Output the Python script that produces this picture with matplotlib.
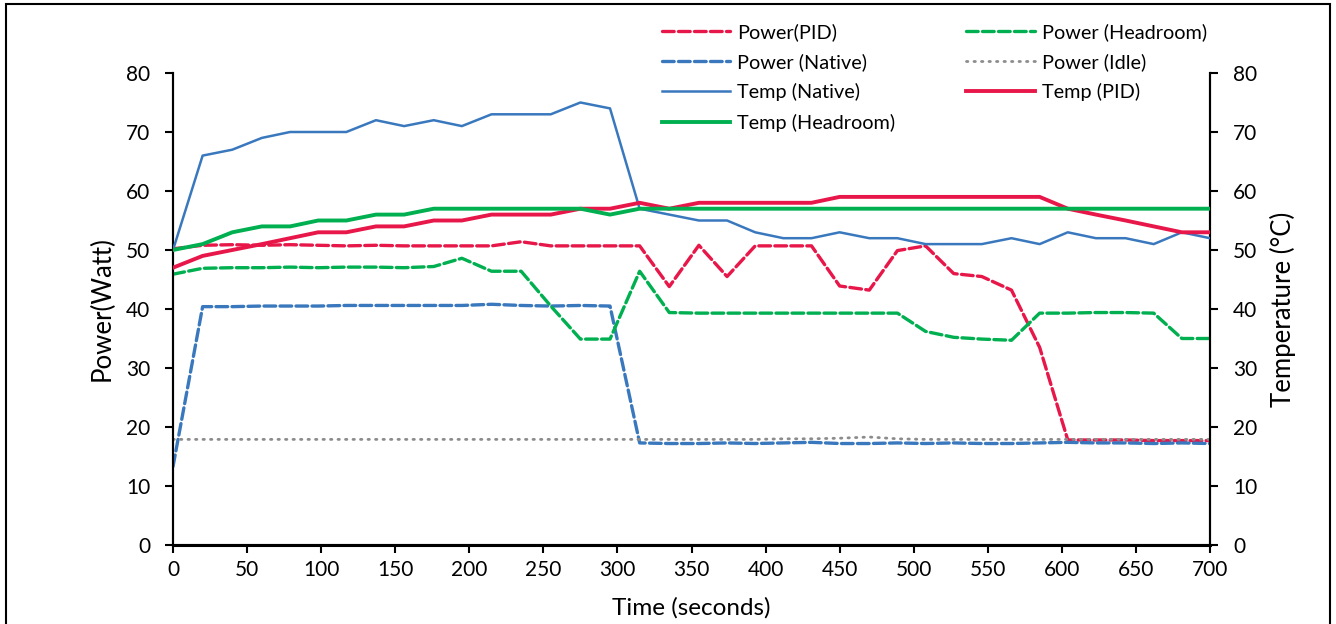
import matplotlib
matplotlib.use("Agg")
import matplotlib.pyplot as plt
from matplotlib.patches import Rectangle

plt.rcParams['font.family'] = ['Lato', 'DejaVu Sans']

time_s = [0, 20, 40, 60, 79, 98, 117, 137, 156, 176, 195, 215, 235, 255, 275,
          295, 315, 335, 355, 374, 393, 412, 431, 450, 470, 489, 508, 527, 546,
          566, 585, 604, 623, 643, 662, 681, 700]

power_pid = [50.2, 50.8, 50.9, 50.8, 50.9, 50.8, 50.7, 50.8, 50.7, 50.7, 50.7,
             50.7, 51.4, 50.7, 50.7, 50.7, 50.7, 43.8, 50.8, 45.5, 50.7, 50.7,
             50.7, 43.9, 43.2, 49.9, 50.7, 46.0, 45.5, 43.2, 33.5, 17.8, 17.8,
             17.8, 17.7, 17.7, 17.7]
power_headroom = [45.9, 46.9, 47.0, 47.0, 47.1, 47.0, 47.1, 47.1, 47.0, 47.2,
                  48.6, 46.4, 46.4, 40.5, 34.9, 34.9, 46.4, 39.4, 39.3, 39.3,
                  39.3, 39.3, 39.3, 39.3, 39.3, 39.3, 36.2, 35.2, 34.9, 34.7,
                  39.3, 39.3, 39.4, 39.4, 39.3, 35.0, 35.0]
power_native = [13.3, 40.4, 40.4, 40.5, 40.5, 40.5, 40.6, 40.6, 40.6, 40.6, 40.6,
                40.8, 40.6, 40.5, 40.6, 40.5, 17.3, 17.2, 17.2, 17.3, 17.2, 17.3,
                17.4, 17.2, 17.2, 17.3, 17.2, 17.3, 17.2, 17.2, 17.3, 17.4, 17.3,
                17.3, 17.2, 17.3, 17.2]
power_idle = [17.9, 17.9, 17.9, 17.9, 17.9, 17.9, 17.9, 17.9, 17.9, 17.9, 17.9,
              17.9, 17.9, 17.9, 17.9, 17.9, 17.9, 17.9, 17.9, 17.9, 17.9, 18.0,
              18.0, 18.1, 18.3, 18.0, 17.9, 17.9, 17.9, 17.9, 17.9, 17.9, 17.9,
              17.9, 17.9, 17.9, 17.9]
temp_native = [50, 66, 67, 69, 70, 70, 70, 72, 71, 72, 71, 73, 73, 73, 75, 74,
               57, 56, 55, 55, 53, 52, 52, 53, 52, 52, 51, 51, 51, 52, 51, 53,
               52, 52, 51, 53, 52]
temp_pid = [47, 49, 50, 51, 52, 53, 53, 54, 54, 55, 55, 56, 56, 56, 57, 57, 58,
            57, 58, 58, 58, 58, 58, 59, 59, 59, 59, 59, 59, 59, 59, 57, 56, 55,
            54, 53, 53]
temp_headroom = [50, 51, 53, 54, 54, 55, 55, 56, 56, 57, 57, 57, 57, 57, 57, 56,
                 57, 57, 57, 57, 57, 57, 57, 57, 57, 57, 57, 57, 57, 57, 57, 57,
                 57, 57, 57, 57, 57]

x_ticks = [0, 50, 100, 150, 200, 250, 300, 350, 400, 450, 500, 550, 600, 650, 700]
y_ticks = [0, 10, 20, 30, 40, 50, 60, 70, 80]

RED = '#E8174A'
BLUE = '#3A78BE'
GREEN = '#00B050'
GREY = '#8C8C8C'

W, H = 1336, 624
fig = plt.figure(figsize=(W / 100, H / 100), dpi=100)
ax = fig.add_axes([173 / W, 1 - 545 / H, (1210 - 173) / W, (545 - 73) / H])
ax2 = ax.twinx()

dash = (3.5, 1.3)
l1, = ax.plot(time_s, power_pid, color=RED, lw=2.4, dashes=dash, dash_capstyle='round',
              label='Power(PID)', zorder=3)
l2, = ax.plot(time_s, power_native, color=BLUE, lw=2.4, dashes=dash, dash_capstyle='round',
              label='Power (Native)', zorder=3)
l5, = ax.plot(time_s, power_headroom, color=GREEN, lw=2.4, dashes=dash, dash_capstyle='round',
              label='Power (Headroom)', zorder=3)
l6, = ax.plot(time_s, power_idle, color=GREY, lw=2.0, dashes=(0.5, 2.2), dash_capstyle='round',
              label='Power (Idle)', zorder=3)
l3, = ax2.plot(time_s, temp_native, color=BLUE, lw=1.8, label='Temp (Native)', zorder=3)
l7, = ax2.plot(time_s, temp_pid, color=RED, lw=2.8, label='Temp (PID)', zorder=3)
l4, = ax2.plot(time_s, temp_headroom, color=GREEN, lw=2.8, label='Temp (Headroom)', zorder=3)

for a in (ax, ax2):
    a.set_xlim(0, 700)
    a.set_ylim(0, 80)
    a.set_yticks(y_ticks)
    a.spines['top'].set_visible(False)
    for s in ('left', 'right', 'bottom'):
        a.spines[s].set_linewidth(1.5)
        a.spines[s].set_color('black')
    a.tick_params(axis='both', direction='out', length=6, width=1.5,
                  labelsize=15, pad=5, colors='black')
    a.tick_params(axis='y', pad=10.5)

ax.spines['bottom'].set_linewidth(2.2)
ax.set_xticks(x_ticks)
ax.set_xlabel('Time (seconds)', fontsize=17.5, labelpad=12)
ax.set_ylabel('Power(Watt)', fontsize=18.5, labelpad=8)
ax2.set_ylabel('Temperature (°C)', fontsize=18.5, labelpad=9.5)

handles = [l1, l2, l3, l4, l5, l6, l7]
leg = fig.legend(handles=handles, labels=[h.get_label() for h in handles],
                 ncol=2, loc='upper left', bbox_to_anchor=(652 / W, 1 - 13 / H),
                 frameon=False, fontsize=14.3, handlelength=3.45, handletextpad=0.35,
                 columnspacing=3.55, labelspacing=0.62, borderpad=0)

fig.patches.append(Rectangle((6 / W, -0.05), (1330 - 6) / W, 1.05 - 4 / H,
                             transform=fig.transFigure, fill=False,
                             edgecolor='black', lw=1.5))

fig.savefig('out.png', dpi=100)
